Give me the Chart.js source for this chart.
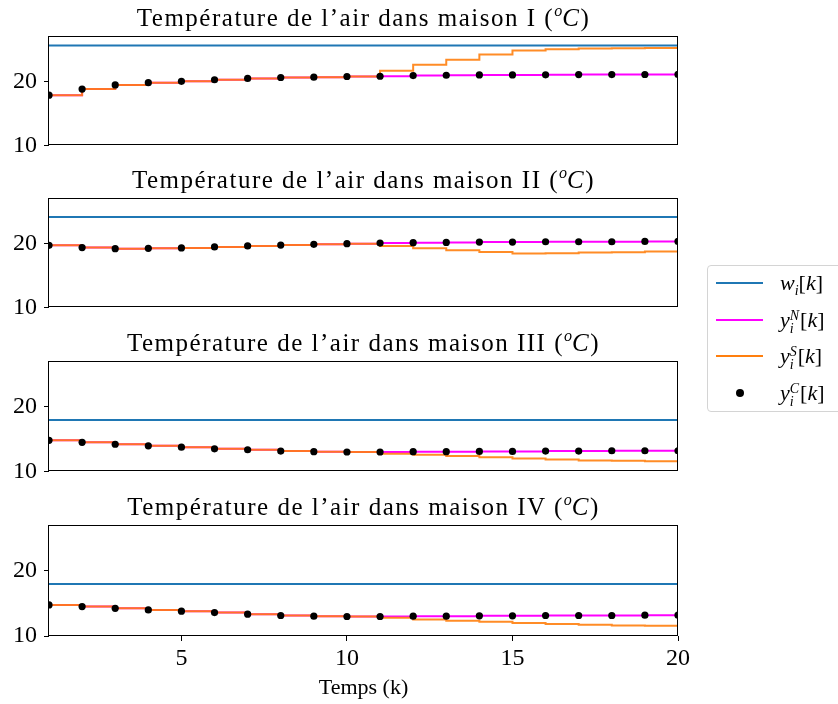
<!DOCTYPE html>
<html>
<head>
<meta charset="utf-8">
<script src="https://cdn.jsdelivr.net/npm/chart.js@4.4.1/dist/chart.umd.min.js"></script>
<style>
body{margin:0;background:#fff;width:838px;height:704px;position:relative;overflow:hidden;font-family:"Liberation Serif",serif;color:#000}
canvas{position:absolute;left:0}
.ttl{position:absolute;left:0;width:727px;text-align:center;font-size:25px;letter-spacing:1.5px;line-height:30px;white-space:nowrap}
.ttl .o{font-size:16px;font-style:italic;position:relative;top:-10px;letter-spacing:0}
#legend{position:absolute;left:707px;top:265px;width:140px;height:147px;border:1px solid #d4d4d4;border-radius:4px;box-sizing:border-box}
.row{position:absolute;left:0;width:140px;height:30px}
.sw{position:absolute;left:8px;top:14px;width:47px;height:2px}
.dot{position:absolute;left:28px;top:11px;width:8px;height:8px;border-radius:50%;background:#000}
.lab{position:absolute;left:72px;top:0;font-size:22px;line-height:30px;white-space:nowrap}
.ss{display:inline-flex;flex-direction:column;vertical-align:middle;font-size:14px;line-height:13px;font-style:italic;margin-right:1px}
</style>
</head>
<body>
<canvas id="c0" width="690" height="152" style="top:15px"></canvas>
<canvas id="c1" width="690" height="152" style="top:177px"></canvas>
<canvas id="c2" width="690" height="153" style="top:340px"></canvas>
<canvas id="c3" width="700" height="200" style="top:504px"></canvas>
<div class="ttl" style="top:3px">Température de l’air dans maison I (<span class="o">o</span><i>C</i>)</div>
<div class="ttl" style="top:165px">Température de l’air dans maison II (<span class="o">o</span><i>C</i>)</div>
<div class="ttl" style="top:328px">Température de l’air dans maison III (<span class="o">o</span><i>C</i>)</div>
<div class="ttl" style="top:492px">Température de l’air dans maison IV (<span class="o">o</span><i>C</i>)</div>
<div id="legend">
  <div class="row" style="top:2px"><span class="sw" style="background:#1f77b4"></span><span class="lab"><i>w</i><sub style="font-size:14px"><i>i</i></sub>[<i>k</i>]</span></div>
  <div class="row" style="top:39px"><span class="sw" style="background:#ff00ff"></span><span class="lab"><i>y</i><span class="ss"><span>N</span><span>i</span></span>[<i>k</i>]</span></div>
  <div class="row" style="top:75px"><span class="sw" style="background:#ff7f0e"></span><span class="lab"><i>y</i><span class="ss"><span>S</span><span>i</span></span>[<i>k</i>]</span></div>
  <div class="row" style="top:112px"><span class="dot"></span><span class="lab"><i>y</i><span class="ss"><span>C</span><span>i</span></span>[<i>k</i>]</span></div>
</div>
<script>
const kSteps = [1,2,3,4,5,6,7,8,9,10,11,12,13,14,15,16,17,18,19,20];
const xTicks = [5,10,15,20];
const yTicks = [10,20];
const houses = ['I','II','III','IV'];
const wRef = [25.6, 24.1, 17.95, 18.0];

// maison I
const yN1 = [17.85,18.8,19.45,19.8,20.0,20.25,20.45,20.6,20.66,20.76,20.8,20.9,20.95,21.0,21.0,21.02,21.05,21.06,21.07,21.08];
const yS1 = [17.85,18.8,19.45,19.8,20.0,20.25,20.45,20.6,20.66,20.76,21.65,22.6,23.35,24.2,24.8,25.0,25.1,25.15,25.2,25.25];
const yC1 = [17.85,18.8,19.45,19.8,20.0,20.25,20.45,20.6,20.66,20.76,20.8,20.9,20.95,21.0,21.0,21.02,21.05,21.06,21.07,21.08];
// maison II
const yN2 = [19.69,19.34,19.18,19.23,19.29,19.44,19.6,19.74,19.85,19.95,20.05,20.1,20.15,20.2,20.2,20.25,20.25,20.25,20.3,20.3];
const yS2 = [19.69,19.34,19.18,19.23,19.29,19.44,19.6,19.74,19.85,19.95,19.6,19.23,18.93,18.67,18.42,18.47,18.57,18.62,18.72,18.78];
const yC2 = [19.69,19.34,19.18,19.23,19.29,19.44,19.6,19.74,19.85,19.95,20.05,20.1,20.15,20.2,20.2,20.25,20.25,20.25,20.3,20.3];
// maison III
const yN3 = [14.82,14.52,14.22,13.97,13.77,13.52,13.37,13.17,13.07,13.02,13.02,13.07,13.07,13.12,13.12,13.17,13.17,13.22,13.22,13.22];
const yS3 = [14.82,14.52,14.22,13.97,13.77,13.52,13.37,13.17,13.07,13.02,12.76,12.61,12.41,12.21,12.01,11.86,11.71,11.66,11.61,11.61];
const yC3 = [14.82,14.52,14.22,13.97,13.77,13.52,13.37,13.17,13.07,13.02,13.02,13.07,13.07,13.12,13.12,13.17,13.17,13.22,13.22,13.22];
// maison IV
const yN4 = [14.77,14.52,14.26,14.01,13.81,13.6,13.35,13.15,13.05,13.0,13.0,13.05,13.05,13.1,13.1,13.15,13.15,13.15,13.2,13.2];
const yS4 = [14.77,14.52,14.26,14.01,13.81,13.6,13.35,13.15,13.05,13.0,12.79,12.54,12.34,12.18,11.98,11.83,11.73,11.62,11.57,11.52];
const yC4 = [14.77,14.52,14.26,14.01,13.81,13.6,13.35,13.15,13.05,13.0,13.0,13.05,13.05,13.1,13.1,13.15,13.15,13.15,13.2,13.2];

const seriesN = [yN1, yN2, yN3, yN4];
const seriesS = [yS1, yS2, yS3, yS4];
const seriesC = [yC1, yC2, yC3, yC4];

const boxPlugin = {
	id: 'box',
	afterDraw(chart){
		const a = chart.chartArea;
		const c = chart.ctx;
		c.save();
		c.strokeStyle = '#000';
		c.lineWidth = 1;
		c.strokeRect(Math.round(a.left) - 0.5, Math.round(a.top) + 0.5, Math.round(a.right - a.left), Math.round(a.bottom - a.top) - 1);
		c.restore();
	}
};

const tickFont = {family: 'Liberation Serif', size: 24};

function pts(arr){
	return kSteps.map((k,j) => ({x: k, y: arr[j]}));
}

houses.forEach(function(h, i){
	const last = i === houses.length - 1;
	new Chart(document.getElementById('c' + i), {
		type: 'line',
		data: {
			datasets: [
				{label: 'w', data: kSteps.map(k => ({x: k, y: wRef[i]})), borderColor: '#1f77b4', borderWidth: 2, pointRadius: 0, order: 3},
				{label: 'yN', data: pts(seriesN[i]), borderColor: '#ff00ff', borderWidth: 2, pointRadius: 0, stepped: 'before', order: 2},
				{label: 'yS', data: pts(seriesS[i]), borderColor: 'rgba(255,127,14,0.9)', borderWidth: 2, pointRadius: 0, stepped: 'before', order: 1},
				{label: 'yC', data: pts(seriesC[i]), showLine: false, pointRadius: 3.6, pointBackgroundColor: '#000', pointBorderWidth: 0, order: 0}
			]
		},
		options: {
			responsive: false,
			animation: false,
			devicePixelRatio: 1,
			layout: {padding: {top: 20, bottom: last ? 0 : 20, left: 0, right: last ? 22 : 12}},
			plugins: {legend: {display: false}, tooltip: {enabled: false}},
			scales: {
				x: {
					type: 'linear',
					min: 1,
					max: 20,
					display: last,
					afterBuildTicks: s => { s.ticks = xTicks.map(v => ({value: v})); },
					afterFit: s => { s.height = last ? 68 : 0; },
					grid: {drawOnChartArea: false, drawTicks: true, tickLength: 5, color: '#000'},
					border: {display: false},
					ticks: {font: tickFont, color: '#000', padding: 3, maxRotation: 0},
					title: {display: true, text: 'Temps (k)', font: {family: 'Liberation Serif', size: 22}, color: '#000', padding: {top: 0, bottom: 3}}
				},
				y: {
					min: 10,
					max: 27,
					afterBuildTicks: s => { s.ticks = yTicks.map(v => ({value: v})); },
					afterFit: s => { s.width = 49; },
					grid: {drawOnChartArea: false, drawTicks: true, tickLength: 5, color: '#000'},
					border: {display: false},
					ticks: {font: tickFont, color: '#000', padding: 7}
				}
			}
		},
		plugins: [boxPlugin]
	});
});
</script>
</body>
</html>
